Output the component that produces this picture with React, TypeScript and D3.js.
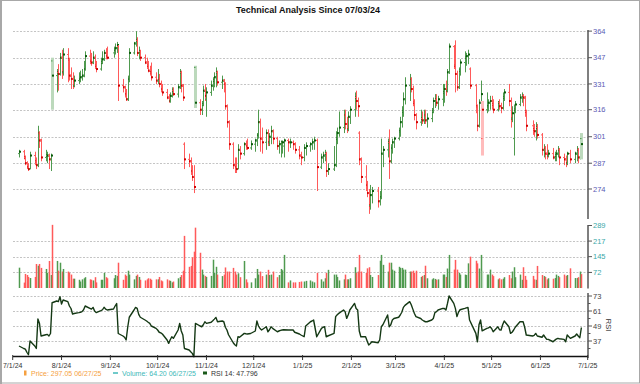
import React from "react";
import * as d3 from "d3";

const W = 640;
const H = 384;

const firstDay = "2024-07-05";
const lastDay = "2025-06-27";
const holidays = ["2024-09-02", "2024-11-28", "2024-12-25", "2025-01-01", "2025-01-09", "2025-01-20", "2025-02-17", "2025-04-18", "2025-05-26", "2025-06-19"];

// [open, high, low, close] per trading day
const ohlc: number[][] = [
  // Jul 2024
  [292,294,290,293],[293,294,289,290],[290,291,286,287],[287,288,284,285],[285,287,283,284],[284,293,284,291],[291,293,286,288],[288,290,284,286],[286,307,285,303],[303,304,295,299],[299,300,288,290],[290,294,288,291],[291,293,287,291],[291,292,284,289],[289,292,283,291],[345,347,316,336],[336,340,326,338],[338,343,327,337],[337,350,336,347],
  // Aug
  [347,352,334,338],[338,353,336,349],[349,353,332,346],[346,347,333,336],[336,341,328,334],[334,338,328,330],[330,336,329,333],[333,338,331,334],[334,339,332,335],[335,340,333,336],[336,345,335,340],[340,351,339,348],[348,352,343,345],[345,350,342,344],[344,351,343,347],[347,349,340,342],[342,345,338,340],[340,347,339,344],[344,351,343,346],[346,352,345,350],[350,353,346,348],[348,354,346,347],
  // Sep
  [350,354,347,352],[352,356,349,353],[353,357,350,355],[354,355,321,330],[330,334,326,329],[329,330,323,325],[325,328,321,322],[322,336,321,334],[334,353,332,350],[350,357,349,356],[356,364,354,358],[358,360,348,350],[350,354,346,351],[351,352,345,347],[347,349,343,344],[344,347,340,342],[342,345,338,339],[339,342,336,338],[338,344,333,335],[335,338,331,333],
  // Oct
  [333,340,331,334],[334,337,329,331],[331,333,326,328],[328,331,324,326],[326,328,322,323],[323,325,320,321],[321,326,320,324],[324,329,323,327],[327,329,324,325],[325,331,323,329],[329,340,328,338],[338,339,326,330],[330,331,321,323],[297,298,284,289],[289,292,285,288],[288,290,281,283],[283,286,278,280],[280,286,272,275],[341,342,317,320],[320,322,313,316],[316,321,313,319],[319,330,318,327],[327,331,321,324],
  // Nov
  [322,329,312,326],[326,333,324,330],[330,335,327,333],[333,338,329,335],[335,341,329,338],[338,339,330,332],[332,336,328,333],[333,334,326,331],[331,332,316,318],[318,319,306,309],[309,310,294,297],[297,298,284,286],[286,290,282,285],[285,290,282,284],[284,297,284,294],[294,296,289,292],[292,298,291,297],[297,299,294,296],[296,300,294,295],[295,299,294,297],
  // Dec
  [297,300,293,299],[299,303,296,302],[302,316,300,309],[309,311,293,300],[300,306,292,298],[298,305,294,303],[303,305,296,298],[298,303,296,301],[301,307,297,304],[304,305,297,300],[300,301,294,296],[296,299,292,297],[297,299,290,298],[298,299,292,298],[296,300,290,299],[299,300,293,298],[298,300,295,298],[298,299,294,297],[297,298,292,294],[294,296,289,291],[291,293,286,290],
  // Jan 2025
  [290,297,288,295],[295,298,291,296],[296,298,293,297],[297,300,294,298],[298,301,294,299],[299,300,273,285],[285,292,284,290],[290,293,287,291],[291,294,288,292],[292,293,280,283],[283,287,281,284],[284,296,283,286],[286,304,285,300],[300,306,297,303],[303,315,301,306],[306,316,303,313],[313,316,305,308],[308,312,303,305],[305,315,304,312],[312,318,308,316],
  // Feb
  [316,326,312,323],[323,327,316,321],[321,323,312,318],[303,304,286,289],[289,290,277,280],[280,286,273,276],[276,278,270,272],[272,274,262,266],[266,276,264,271],[271,275,267,273],[273,275,265,268],[268,273,266,270],[270,300,269,292],[292,296,285,294],[294,300,290,298],[298,305,279,288],[288,297,287,295],[295,300,292,298],[298,301,295,300],
  // Mar
  [300,306,299,304],[304,312,301,309],[309,318,306,315],[315,326,312,322],[322,335,319,330],[330,337,321,334],[334,335,326,328],[328,330,318,320],[320,322,310,313],[313,314,305,309],[309,316,307,311],[311,315,308,310],[310,316,308,313],[313,316,308,310],[310,314,306,311],[311,317,309,315],[315,323,314,321],[321,325,317,322],[322,325,318,320],[320,324,316,322],[322,331,318,326],
  // Apr
  [326,331,320,328],[328,333,324,327],[327,340,326,338],[338,356,337,354],[354,355,340,342],[342,358,326,337],[337,339,327,329],[329,341,328,339],[339,346,336,344],[344,351,338,347],[347,350,342,348],[348,352,343,349],[340,341,328,330],[330,331,314,318],[318,319,304,307],[307,322,306,320],[320,333,318,325],[300,321,291,316],[316,326,314,318],[318,322,315,320],[320,324,316,321],
  // May
  [321,324,316,319],[319,322,314,316],[316,321,315,320],[320,322,316,318],[318,320,314,317],[317,326,316,323],[323,328,321,326],[326,331,318,321],[321,323,306,311],[311,318,309,314],[300,319,291,316],[316,321,314,319],[319,325,318,323],[323,326,320,324],[324,325,318,323],[323,324,312,315],[315,316,304,307],[307,310,302,305],[305,308,301,304],[304,309,299,306],[306,308,300,302],
  // Jun
  [302,303,291,294],[294,297,290,295],[295,296,289,292],[292,297,289,291],[291,294,290,292],[292,295,289,290],[290,293,288,291],[291,294,288,292],[292,296,290,294],[294,295,286,290],[290,292,286,289],[289,291,285,287],[287,293,286,292],[292,294,287,289],[289,293,287,292],[292,296,288,294],[294,295,287,290],[290,297,289,295],[300,303,289,297.05],
];

const volume: number[] = [
  94,25,65,60,51,46,51,111,103,111,93,88,70,125,60,292,125,80,117,
  76,88,76,70,62,43,43,38,30,40,45,50,40,38,35,50,26,38,38,70,50,45,
  45,60,56,117,38,62,56,80,62,40,56,62,51,38,35,40,45,43,38,40,
  40,51,35,31,40,35,33,26,30,45,51,60,80,241,98,102,142,168,279,163,85,62,56,
  51,56,131,70,98,62,55,62,95,76,76,93,76,62,68,50,125,40,26,26,
  45,88,62,76,55,62,84,60,62,76,50,60,88,82,153,26,35,26,26,28,30,
  30,33,35,30,26,70,40,30,45,70,84,62,62,51,35,40,62,40,40,45,
  96,70,76,153,76,70,91,96,60,51,60,126,153,107,76,117,117,85,80,
  98,93,93,85,85,76,76,80,70,80,51,56,60,103,45,40,45,42,38,40,62,
  62,51,90,153,85,130,85,70,62,62,60,114,145,126,114,90,153,80,62,62,85,
  62,55,40,45,40,43,50,60,45,76,96,50,62,38,96,56,38,56,40,38,102,
  60,55,51,40,45,43,46,62,56,50,62,56,60,91,46,46,50,76,64.2,
];

const rsi: number[] = [
  33,31,30.5,28,26,37,33,31,54.6,51,41,42,42.3,41,43,67.6,69,68.5,72.5,
  66.6,69.8,68.5,65,63,58.6,59,59.7,60,60.5,62,65,63.1,62.5,63.9,61,59.7,61.3,62,64,62.5,61.8,
  62.6,65,67,43,41,40,37.8,48,56,61.8,63.9,63.1,58.3,56,53.8,53,52,51.1,49,47.1,
  45.8,44,43.5,42.6,37.8,35.1,38,40.4,39.1,45.8,51.1,45,41.8,31,29.8,28.4,27.1,24.4,51.1,49,48.4,50,52.4,
  51.1,52,53.2,54.5,55.9,52.4,53,52.4,48,45.8,42,35.6,34,33,40.4,40,43.1,42.8,42.6,43,
  45,53,49,47,45.8,48.4,44.4,46,48.4,47.1,44.4,45,45.5,45.8,46,45.8,45.8,45.8,44,42.6,41.8,
  40.4,49,52.4,53,53.8,40.4,47.1,48,48.4,40.4,41,43.1,56.5,58,59.1,61.8,60.5,55.1,58,61.8,
  67.1,63,61.8,45,40.4,40.4,37,33.8,35,36.4,35.6,38,48.4,50,57.8,48.4,50,53.8,55,
  56,57.8,60,63.9,65.5,68.5,66,62.5,59,56.5,55,53.8,53,52.4,52.4,53.8,55,59.7,60.5,61.8,63.1,
  63,61.8,67.1,73,67.1,63.1,56.5,60.1,62,63.1,63.5,63.9,53.8,43.1,36.4,50,53.8,45.1,47.1,47.5,48.4,
  47,44.4,48.4,46,45.8,50,53,48.4,43.1,44,45.8,48,52.4,52.4,52.4,48,41.8,41,41.5,43.1,41,
  40,41.8,40,38.3,38.3,36.4,37.5,38.5,39.1,38.8,38.3,36.4,41.8,39.1,41,42.6,41,39.6,47.796,
];

const priceTicks = [274, 287, 301, 316, 331, 347, 364];
const volumeTicks = [72, 145, 217, 289];
const rsiTicks = [37, 49, 61, 73];
const monthTicks = ["2024-07-01","2024-08-01","2024-09-01","2024-10-01","2024-11-01","2024-12-01","2025-01-01","2025-02-01","2025-03-01","2025-04-01","2025-05-01","2025-06-01","2025-07-01"];

const parse = d3.timeParse("%Y-%m-%d");
const fmtIso = d3.timeFormat("%Y-%m-%d");
const fmtTick = (d: Date) => `${d.getMonth() + 1}/${d.getDate()}/${String(d.getFullYear()).slice(2)}`;

function tradingDays(): Date[] {
  const out: Date[] = [];
  const hol = new Set(holidays);
  const end = parse(lastDay) as Date;
  let d = parse(firstDay) as Date;
  while (d <= end) {
    const wd = d.getDay();
    if (wd !== 0 && wd !== 6 && !hol.has(fmtIso(d))) out.push(d);
    d = d3.timeDay.offset(d, 1);
  }
  return out;
}

const FONT = "'Liberation Sans', Arial, sans-serif";
const UP = { main: "#4f9a4f", pale: "#bcd9bc", dark: "#0a5a0a" };
const DN = { main: "#ff5a5a", pale: "#ffbcbc", dark: "#d00000" };

export default function App() {
  const dates = tradingDays();
  const n = Math.min(dates.length, ohlc.length);

  const x = d3.scaleTime().domain([parse("2024-07-01") as Date, parse("2025-07-01") as Date]).range([12.7, 587.7]);
  const yP = d3.scaleLog().domain([259.6, 364.4]).range([219, 30.5]);
  const yV = d3.scaleLinear().domain([0, 289]).range([288, 225.5]);
  const yR = d3.scaleLinear().domain([25, 73]).range([356, 296]);

  const axisX = 588;
  const gridX0 = 13;

  const bars = [];
  for (let i = 0; i < n; i++) {
    const [o, h, l, c] = ohlc[i];
    const prev = i > 0 ? ohlc[i - 1][3] : o;
    const upPrev = c >= prev;
    const upOpen = c >= o;
    const cx = Math.round(x(dates[i])) + 0.5;
    bars.push({
      i, o, h, l, c, cx,
      pc: upPrev ? UP : DN, pLight: upPrev !== upOpen,
      vc: upOpen ? UP : DN, vLight: upOpen && !upPrev,
    });
  }

  const rsiLine = d3.line<number>()
    .x((_, i) => x(dates[i]))
    .y((v) => yR(v));

  return (
    <svg width={W} height={H} style={{ position: "absolute", left: 0, top: 0, background: "#fff" }} fontFamily={FONT}>
      <rect x={0} y={0} width={W} height={H} fill="#fff" />
      <rect x={0.5} y={0.5} width={W - 1} height={H - 1.5} fill="none" stroke="#a8a8a8" strokeWidth={1} />
      <line x1={1} y1={0} x2={1} y2={H} stroke="#a8a8a8" strokeWidth={2} />

      <text x={308} y={13} textAnchor="middle" fontSize={9} fontWeight="bold" fill="#111">Technical Analysis Since 07/03/24</text>

      {/* grid */}
      {priceTicks.map((t) => (
        <line key={"gp" + t} x1={gridX0} x2={axisX} y1={Math.round(yP(t)) + 0.5} y2={Math.round(yP(t)) + 0.5} stroke="#c4c4c4" strokeDasharray="2,1.5" />
      ))}
      {volumeTicks.slice(0, 3).map((t) => (
        <line key={"gv" + t} x1={gridX0} x2={axisX} y1={Math.round(yV(t)) + 0.5} y2={Math.round(yV(t)) + 0.5} stroke="#c4c4c4" strokeDasharray="2,1.5" />
      ))}
      {rsiTicks.map((t) => (
        <line key={"gr" + t} x1={gridX0} x2={axisX} y1={Math.round(yR(t)) + 0.5} y2={Math.round(yR(t)) + 0.5} stroke="#c4c4c4" strokeDasharray="2,1.5" />
      ))}

      {/* price bars */}
      {bars.map((b) => {
        const yh = yP(b.h), yl = yP(b.l), yo = yP(b.o), yc = yP(b.c);
        return (
          <g key={"b" + b.i}>
            {b.pLight ? (
              <rect x={b.cx - 1.5} y={yh} width={3} height={Math.max(1, yl - yh)} fill={b.pc.pale} />
            ) : (
              <line x1={b.cx} x2={b.cx} y1={yh} y2={yl} stroke={b.pc.main} strokeWidth={1} />
            )}
            <line x1={b.cx - 1.5} x2={b.cx} y1={yo} y2={yo} stroke={b.pc.main} strokeWidth={1} />
            <rect x={b.cx - 0.5} y={yc - 1} width={2} height={2} fill={b.pc.dark} />
          </g>
        );
      })}

      {/* volume bars */}
      {bars.map((b) => (
        <rect key={"v" + b.i} x={b.cx - 0.75} y={yV(volume[b.i])} width={1.5} height={yV(0) - yV(volume[b.i])} fill={b.vLight ? b.vc.pale : b.vc.main} />
      ))}

      {/* RSI */}
      <path d={rsiLine(rsi.slice(0, n)) || ""} fill="none" stroke="#143814" strokeWidth={1.4} strokeLinejoin="round" />

      {/* right axes */}
      <line x1={axisX} x2={axisX} y1={30} y2={219} stroke="#555" strokeWidth={1.5} />
      <line x1={axisX} x2={axisX} y1={225} y2={288.5} stroke="#555" strokeWidth={1.5} />
      <line x1={axisX} x2={axisX} y1={293} y2={358} stroke="#555" strokeWidth={1.5} />
      {priceTicks.map((t) => (
        <g key={"tp" + t}>
          <line x1={axisX} x2={axisX + 4} y1={yP(t)} y2={yP(t)} stroke="#555" />
          <text x={axisX + 5} y={yP(t) + 2.6} fontSize={7.5} fill="#5a5ab4">{t}</text>
        </g>
      ))}
      {volumeTicks.map((t) => (
        <g key={"tv" + t}>
          <line x1={axisX} x2={axisX + 4} y1={yV(t)} y2={yV(t)} stroke="#555" />
          <text x={axisX + 5} y={yV(t) + 2.6} fontSize={7.5} fill="#3aa8a8">{t}</text>
        </g>
      ))}
      {rsiTicks.map((t) => (
        <g key={"tr" + t}>
          <line x1={axisX} x2={axisX + 4} y1={yR(t)} y2={yR(t)} stroke="#555" />
          <text x={axisX + 5} y={yR(t) + 2.6} fontSize={7.5} fill="#444">{t}</text>
        </g>
      ))}
      {rsiTicks.map((t) => (
        <line key={"trm" + t} x1={axisX} x2={axisX + 2.5} y1={yR(t - 6)} y2={yR(t - 6)} stroke="#555" />
      ))}
      <text transform="translate(606,325) rotate(90)" textAnchor="middle" fontSize={7.5} fill="#333">RSI</text>

      {/* x axis */}
      <line x1={gridX0} x2={axisX} y1={356.5} y2={356.5} stroke="#111" strokeWidth={1.5} />
      {monthTicks.map((s) => {
        const d = parse(s) as Date;
        const xx = x(d);
        return (
          <g key={"xm" + s}>
            <line x1={xx} x2={xx} y1={355} y2={360} stroke="#333" />
            <text x={Math.max(xx, 12)} y={368} textAnchor="middle" fontSize={7} fill="#333">{fmtTick(d)}</text>
          </g>
        );
      })}

      {/* legend */}
      <rect x={24} y={370.5} width={2.5} height={5} fill="#f5a040" />
      <text x={31} y={376} fontSize={7} fill="#f5a040">Price: 297.05  06/27/25</text>
      <line x1={113} x2={118} y1={373} y2={373} stroke="#40b8b8" strokeWidth={1.5} />
      <text x={122} y={376} fontSize={7} fill="#40b8b8">Volume: 64.20  06/27/25</text>
      <rect x={203} y={371.5} width={4} height={3} fill="#1a5a1a" />
      <text x={211} y={376} fontSize={7} fill="#333">RSI 14: 47.796</text>
    </svg>
  );
}
